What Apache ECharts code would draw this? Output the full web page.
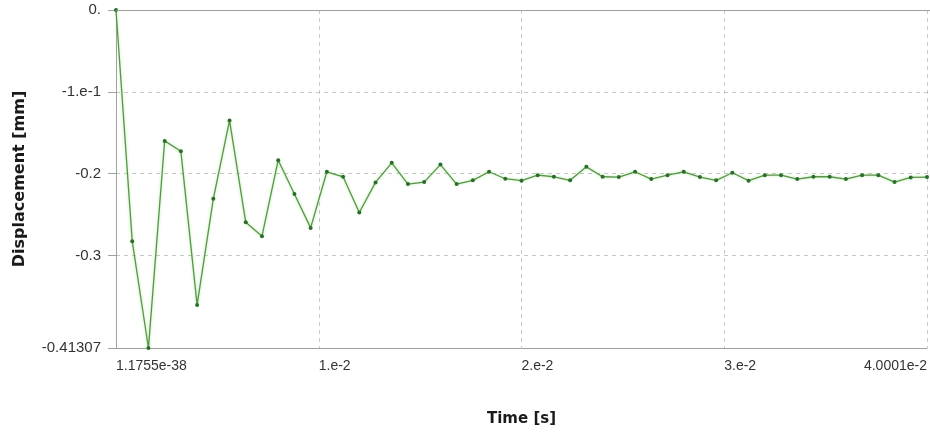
<!DOCTYPE html>
<html>
<head>
<meta charset="utf-8">
<script src="https://cdn.jsdelivr.net/npm/echarts@6/dist/echarts.min.js"></script>
<style>html,body{margin:0;padding:0;background:#fff}#c{width:930px;height:435px}</style>
</head>
<body>
<div id="c"></div>
<script>
const times = [0,0.0008,0.0016,0.0024,0.0032,0.004,0.0048,0.0056,0.0064,0.0072,0.008,0.0088,0.0096,0.0104,0.0112,0.012,0.0128,0.0136,0.0144,0.0152,0.016,0.0168,0.0176,0.0184,0.0192,0.02,0.0208,0.0216,0.0224,0.0232,0.024,0.0248,0.0256,0.0264,0.0272,0.028,0.0288,0.0296,0.0304,0.0312,0.032,0.0328,0.0336,0.0344,0.0352,0.036,0.0368,0.0376,0.0384,0.0392,0.04];
const displacement = [0,-0.2825,-0.41307,-0.160,-0.1727,-0.3604,-0.2308,-0.135,-0.2595,-0.2764,-0.1836,-0.2248,-0.2663,-0.1977,-0.2038,-0.2474,-0.2107,-0.1868,-0.2127,-0.2103,-0.1889,-0.2127,-0.2082,-0.1977,-0.2062,-0.2086,-0.2018,-0.2038,-0.2082,-0.1917,-0.2038,-0.2042,-0.1977,-0.2066,-0.2018,-0.1977,-0.2042,-0.2082,-0.1989,-0.2086,-0.2018,-0.2018,-0.2066,-0.2038,-0.2038,-0.2066,-0.2018,-0.2018,-0.2103,-0.2046,-0.2042];
const xTickValues = [0,0.01,0.02,0.03,0.04];
const xTickLabels = ['1.1755e-38','1.e-2','2.e-2','3.e-2','4.0001e-2'];
const yTickValues = [-0.41307,-0.3,-0.2,-0.1,0];
const yTickLabels = ['-0.41307','-0.3','-0.2','-1.e-1','0.'];

const chart = echarts.init(document.getElementById('c'));
const lblFont = 'Liberation Sans, Arial, sans-serif';
const titleFont = 'DejaVu Sans, sans-serif';
chart.setOption({
  animation:false,
  grid:{left:116,right:0,top:10,bottom:87,containLabel:false},
  xAxis:{
    type:'value',min:0,max:0.04,
    name:'Time [s]',nameLocation:'middle',nameGap:64,
    nameTextStyle:{fontFamily:titleFont,fontWeight:'bold',fontSize:15,color:'#1a1a1a'},
    axisLine:{show:true,onZero:false,lineStyle:{color:'#a0a0a0',width:1}},
    axisTick:{show:false,customValues:xTickValues},
    axisLabel:{customValues:xTickValues,align:'left',alignMaxLabel:'right',margin:11,fontFamily:lblFont,fontSize:14,color:'#333',
      formatter:v=>{const i=xTickValues.findIndex(t=>Math.abs(t-v)<1e-9);return i>=0?xTickLabels[i]:'';}},
    splitLine:{show:true,lineStyle:{color:'#c8c8c8',type:[4,4],width:1}}
  },
  yAxis:{
    type:'value',min:-0.41307,max:0,
    name:'Displacement [mm]',nameLocation:'middle',nameGap:88,nameRotate:90,
    nameTextStyle:{fontFamily:titleFont,fontWeight:'bold',fontSize:16,color:'#1a1a1a'},
    axisLine:{show:true,lineStyle:{color:'#a0a0a0',width:1}},
    axisTick:{show:true,length:8,customValues:yTickValues,lineStyle:{color:'#a0a0a0'}},
    axisLabel:{customValues:yTickValues,margin:15,fontFamily:lblFont,fontSize:15,color:'#333',
      formatter:v=>{const i=yTickValues.findIndex(t=>Math.abs(t-v)<1e-9);return i>=0?yTickLabels[i]:'';}},
    splitLine:{show:true,lineStyle:{color:'#c8c8c8',type:[4,4],width:1}}
  },
  series:[{
    type:'line',
    data:times.map((t,i)=>[t,displacement[i]]),
    symbol:'circle',symbolSize:4,
    lineStyle:{color:'#5a9449',width:1.3,shadowColor:'rgba(120,220,100,0.6)',shadowBlur:3},
    itemStyle:{color:'#2a6e2a'},
    clip:false
  }],
  graphic:[
    {type:'line',shape:{x1:116,y1:10.5,x2:930,y2:10.5},style:{stroke:'#a0a0a0',lineWidth:1},z:100}
  ]
});
</script>
</body>
</html>
